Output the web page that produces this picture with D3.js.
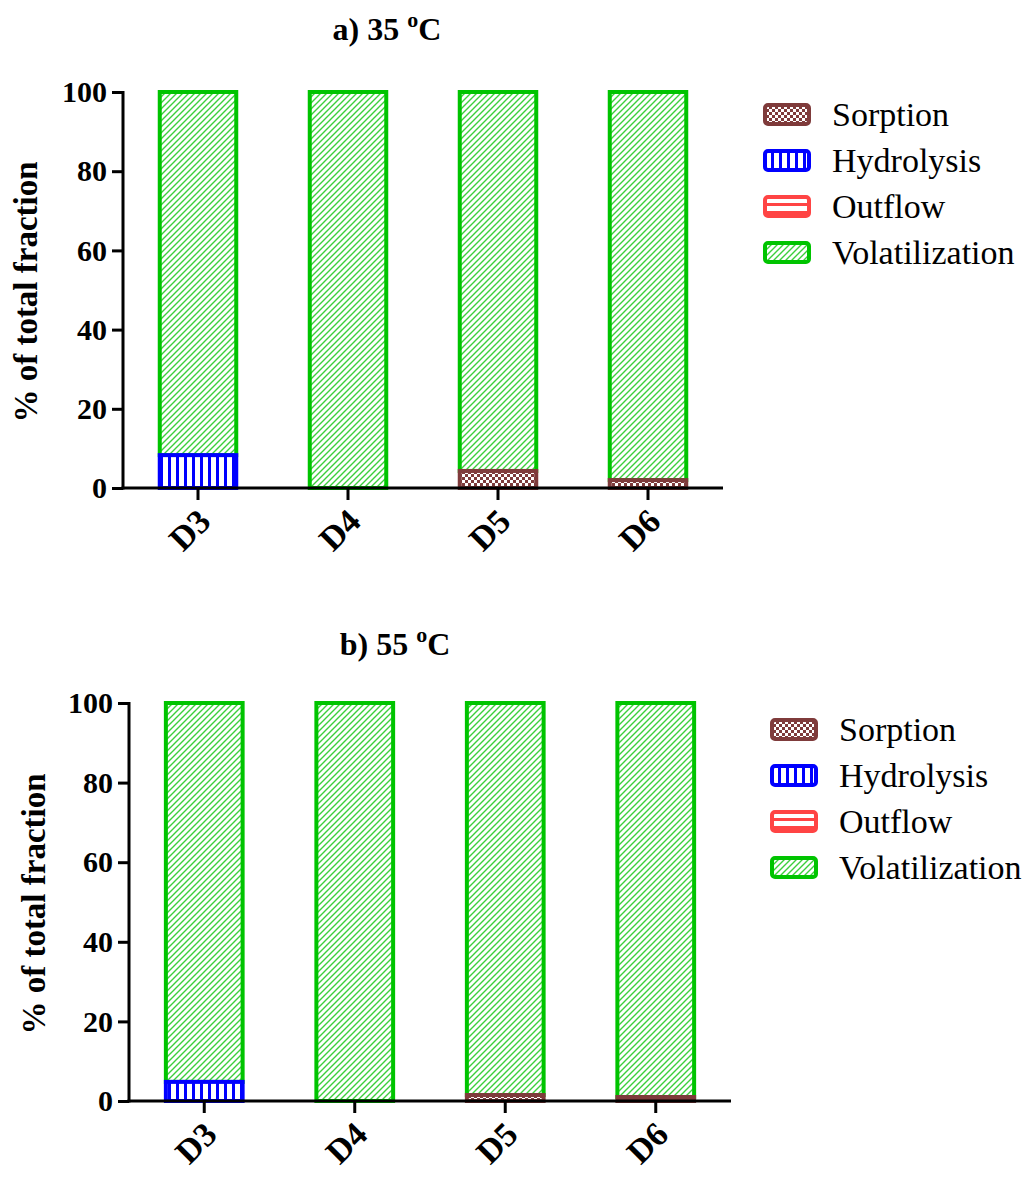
<!DOCTYPE html>
<html>
<head>
<meta charset="utf-8">
<script src="https://cdn.jsdelivr.net/npm/d3@7"></script>
<style>
  body { margin: 0; background: #fff; }
  svg text { font-family: "Liberation Serif", "Times New Roman", serif; }
</style>
</head>
<body>
<svg id="chart" width="1027" height="1177"></svg>
<script>
var categories = ["D3", "D4", "D5", "D6"];
var seriesNames = ["Sorption", "Hydrolysis", "Outflow", "Volatilization"];
var yTicks = [0, 20, 40, 60, 80, 100];

// panel a) 35 oC
var sorption35 = [0, 0, 4.3, 2];
var hydrolysis35 = [8.3, 0, 0, 0];
var outflow35 = [0, 0, 0, 0];
var volatilization35 = [91.7, 100, 95.7, 98];

// panel b) 55 oC
var sorption55 = [0, 0, 1.5, 1];
var hydrolysis55 = [4.8, 0, 0, 0];
var outflow55 = [0, 0, 0, 0];
var volatilization55 = [95.2, 100, 98.5, 99];

var colors = {Sorption: "#7f3b3b", Hydrolysis: "#0000ff", Outflow: "#ff4444", Volatilization: "#00c400"};
var fills = {Sorption: "url(#pSorp)", Hydrolysis: "url(#pHyd)", Outflow: "url(#pOut)", Volatilization: "url(#pVol)"};

var svg = d3.select("#chart");
var defs = svg.append("defs");

function addPattern(id, w, h) {
    return defs.append("pattern").attr("id", id)
        .attr("patternUnits", "userSpaceOnUse")
        .attr("width", w).attr("height", h);
}

// checker for sorption
let ps = addPattern("pSorp", 6, 6);
ps.append("rect").attr("width", 6).attr("height", 6).attr("fill", colors.Sorption);
ps.append("rect").attr("width", 3).attr("height", 3).attr("fill", "#fff");
ps.append("rect").attr("x", 3).attr("y", 3).attr("width", 3).attr("height", 3).attr("fill", "#fff");

// vertical stripes for hydrolysis
let ph = addPattern("pHyd", 8, 8);
ph.append("rect").attr("width", 8).attr("height", 8).attr("fill", "#fff");
ph.append("rect").attr("width", 3).attr("height", 8).attr("fill", colors.Hydrolysis);

// horizontal stripes for outflow
let po = addPattern("pOut", 8, 8);
po.append("rect").attr("width", 8).attr("height", 8).attr("fill", "#fff");
po.append("rect").attr("width", 8).attr("height", 3).attr("fill", colors.Outflow);

// diagonal hatch for volatilization
let pv = addPattern("pVol", 6, 6);
pv.append("rect").attr("width", 6).attr("height", 6).attr("fill", "#fff");
pv.append("path").attr("d", "M-1,7 L7,-1 M-4,4 L4,-4 M2,10 L10,2")
    .attr("stroke", "#3ccf3c").attr("stroke-width", 1.4);

function drawPanel(opts) {
    let rows = categories.map((c, i) => ({
        cat: c,
        Sorption: opts.sorption[i],
        Hydrolysis: opts.hydrolysis[i],
        Outflow: opts.outflow[i],
        Volatilization: opts.volatilization[i]
    }));
    let stacked = d3.stack().keys(seriesNames)(rows);

    let x = d3.scaleBand().domain(categories)
        .range([opts.left, opts.right])
        .paddingInner(0.49).paddingOuter(0.245);
    let y = d3.scaleLinear().domain([0, 100]).range([opts.bottom, opts.top]);

    let g = svg.append("g");

    // bars, volatilization first so lower segments sit on top
    for (let s of stacked.slice().reverse()) {
        g.append("g").selectAll("rect")
            .data(s.filter(d => d[1] - d[0] > 0))
            .enter().append("rect")
            .attr("x", d => x(d.data.cat))
            .attr("width", x.bandwidth())
            .attr("y", d => y(d[1]))
            .attr("height", d => y(d[0]) - y(d[1]))
            .attr("fill", fills[s.key])
            .attr("stroke", colors[s.key])
            .attr("stroke-width", 4);
    }

    // y axis
    let ya = g.append("g").attr("transform", "translate(" + opts.left + ",0)")
        .call(d3.axisLeft(y).tickValues(yTicks).tickSize(11).tickPadding(5));
    ya.select(".domain").attr("stroke-width", 3).attr("d", "M0," + (opts.top - 1) + "V" + (opts.bottom + 1.5));
    ya.selectAll(".tick line").attr("stroke-width", 3);
    ya.selectAll(".tick text")
        .attr("font-family", "Liberation Serif").attr("font-weight", "bold")
        .attr("font-size", 30).attr("fill", "#000");

    // x axis
    let xa = g.append("g").attr("transform", "translate(0," + opts.bottom + ")")
        .call(d3.axisBottom(x).tickSize(12).tickSizeOuter(0));
    xa.select(".domain").attr("stroke-width", 3).attr("d", "M" + (opts.left - 1.5) + ",0H" + opts.right);
    xa.selectAll(".tick line").attr("stroke-width", 3);
    xa.selectAll(".tick text")
        .attr("font-family", "Liberation Serif").attr("font-weight", "bold")
        .attr("font-size", 34).attr("fill", "#000")
        .attr("text-anchor", "end")
        .attr("y", 0).attr("dy", "0.35em")
        .attr("transform", "translate(6,27) rotate(-45)");

    // y label
    g.append("text")
        .attr("transform", "translate(" + opts.ylabX + "," + ((opts.top + opts.bottom) / 2 + 2) + ") rotate(-90)")
        .attr("text-anchor", "middle")
        .attr("font-weight", "bold")
        .attr("font-size", 33)
        .text("% of total fraction");

    // title
    let t = g.append("text")
        .attr("x", opts.titleX).attr("y", opts.titleY)
        .attr("text-anchor", "middle")
        .attr("font-weight", "bold").attr("font-size", 32);
    t.append("tspan").text(opts.title + " ");
    t.append("tspan").attr("font-size", 22).attr("dy", -13).text("o");
    t.append("tspan").attr("dy", 13).text("C");

    // legend
    let lg = g.append("g").selectAll("g")
        .data(seriesNames)
        .enter().append("g")
        .attr("transform", (d, i) => "translate(" + opts.legX + "," + (opts.legY + i * 46) + ")");
    lg.append("rect")
        .attr("x", 2).attr("y", 2).attr("width", 44).attr("height", 19).attr("rx", 3)
        .attr("fill", d => fills[d])
        .attr("stroke", d => colors[d]).attr("stroke-width", 4);
    lg.append("text")
        .attr("x", 69).attr("y", 11.5).attr("dy", "0.35em")
        .attr("font-size", 34)
        .text(d => d);
}

drawPanel({
    sorption: sorption35, hydrolysis: hydrolysis35, outflow: outflow35, volatilization: volatilization35,
    left: 123, right: 723, top: 92, bottom: 488,
    title: "a) 35", titleX: 387, titleY: 40, ylabX: 37,
    legX: 763, legY: 103
});

drawPanel({
    sorption: sorption55, hydrolysis: hydrolysis55, outflow: outflow55, volatilization: volatilization55,
    left: 129, right: 731, top: 703, bottom: 1101,
    title: "b) 55", titleX: 395, titleY: 655, ylabX: 45,
    legX: 770, legY: 718
});
</script>
</body>
</html>
